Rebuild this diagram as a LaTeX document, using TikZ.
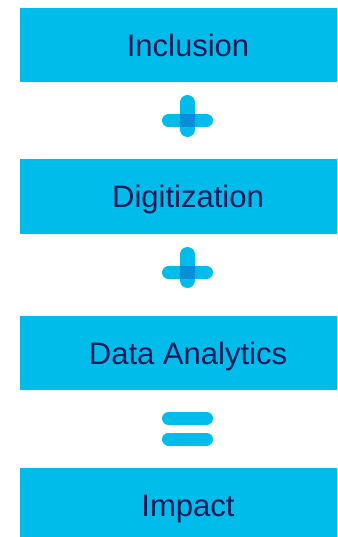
\documentclass[tikz,border=0pt]{standalone}
\usepackage{fontspec}
\setmainfont{Liberation Sans}
\definecolor{ciscocyan}{HTML}{00BCEB}
\definecolor{overlapblue}{HTML}{058FD8}
\definecolor{navytext}{HTML}{0D1B59}
\tikzset{
  stagebox/.style={fill=ciscocyan, draw=none, minimum width=336pt, minimum height=74pt,
    inner sep=0pt, text=navytext, font=\fontsize{31}{31}\selectfont,
    text height=22.2pt, text depth=0pt},
  vbar/.style={draw=ciscocyan, line width=15pt, line cap=round},
  hbar/.style={draw=ciscocyan, line width=13pt, line cap=round},
}
\begin{document}
\begin{tikzpicture}[x=1pt,y=-1pt]
\useasboundingbox (0,0) rectangle (337,537);
\clip (0,0) rectangle (337,537);
\node[stagebox] (inclusion) at (188,45) {Inclusion};
\node[stagebox] (digitization) at (188,196.5) {Digitization};
\node[stagebox] (analytics) at (188,353) {Data Analytics};
\node[stagebox] (impact) at (188,505) {Impact};
% plus 1
\draw[hbar] (168.5,120.5) -- (206.5,120.5);
\draw[vbar] (187.5,102.5) -- (187.5,129.5);
\fill[overlapblue] (180,114) rectangle (195,127);
% plus 2
\draw[hbar] (168.5,272.5) -- (206.5,272.5);
\draw[vbar] (187.5,254.5) -- (187.5,280.5);
\fill[overlapblue] (180,266) rectangle (195,279);
% equals
\draw[hbar] (168.5,418.5) -- (206.5,418.5);
\draw[hbar] (168.5,439) -- (206.5,439);
\end{tikzpicture}
\end{document}
